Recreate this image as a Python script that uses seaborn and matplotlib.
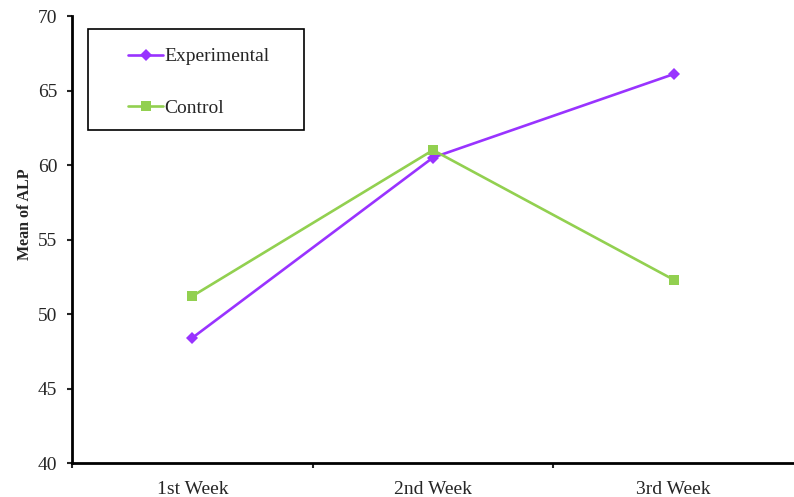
import pandas as pd
import seaborn as sns
import matplotlib.pyplot as plt
from matplotlib.patches import Rectangle

weeks = ["1st Week", "2nd Week", "3rd Week"]
experimental = [48.4, 60.5, 66.1]
control = [51.2, 61.0, 52.3]

df = pd.DataFrame({
    "week": weeks * 2,
    "pos": list(range(len(weeks))) * 2,
    "alp": experimental + control,
    "group": ["Experimental"] * 3 + ["Control"] * 3,
})

sns.set_style("ticks")
plt.rcParams["font.family"] = ["Liberation Serif", "DejaVu Serif"]

fig = plt.figure(figsize=(7.94, 4.97), dpi=100)
ax = fig.add_axes([0.0907, 0.0684, 0.9093, 0.8994])

sns.lineplot(data=df, x="pos", y="alp", hue="group", style="group",
             markers={"Experimental": "D", "Control": "s"}, dashes=False,
             palette={"Experimental": "#9933FF", "Control": "#92D050"},
             markersize=6.5, linewidth=1.9, markeredgewidth=0, ax=ax)

ax.set_xlim(-0.5, 2.5)
ax.set_ylim(40, 70)
ax.set_yticks(range(40, 71, 5))
# category boundaries get the tick marks, the names sit between them
ax.set_xticks([-0.5, 0.5, 1.5])
ax.set_xticklabels([])
ax.set_xticks(range(3), weeks, minor=True)
ax.tick_params(axis="x", which="minor", length=0, labelsize=14, pad=13)
ax.tick_params(axis="x", which="major", length=3.5, width=1.5, direction="out")
ax.tick_params(axis="y", length=3.5, width=1.5, labelsize=14, pad=7)
ax.set_xlabel("")
ax.set_ylabel("Mean of ALP", fontsize=11.5, fontweight="bold")
ax.yaxis.set_label_coords(-0.054, 0.557)

for side in ["top", "right"]:
    ax.spines[side].set_visible(False)
for side in ["left", "bottom"]:
    ax.spines[side].set_linewidth(2)
    ax.spines[side].set_color("black")

# legend box drawn separately so the inner padding matches
ax.add_patch(Rectangle((0.0222, 0.745), 0.2991, 0.226, transform=ax.transAxes,
                       fill=False, edgecolor="black", linewidth=1.2, zorder=5))
leg = ax.legend(loc="upper left", bbox_to_anchor=(0.0776, 0.929), fontsize=14,
                frameon=False, handlelength=1.8, handletextpad=0.05,
                labelspacing=1.75, borderpad=0, borderaxespad=0)

fig.savefig("out.png", dpi=100)
